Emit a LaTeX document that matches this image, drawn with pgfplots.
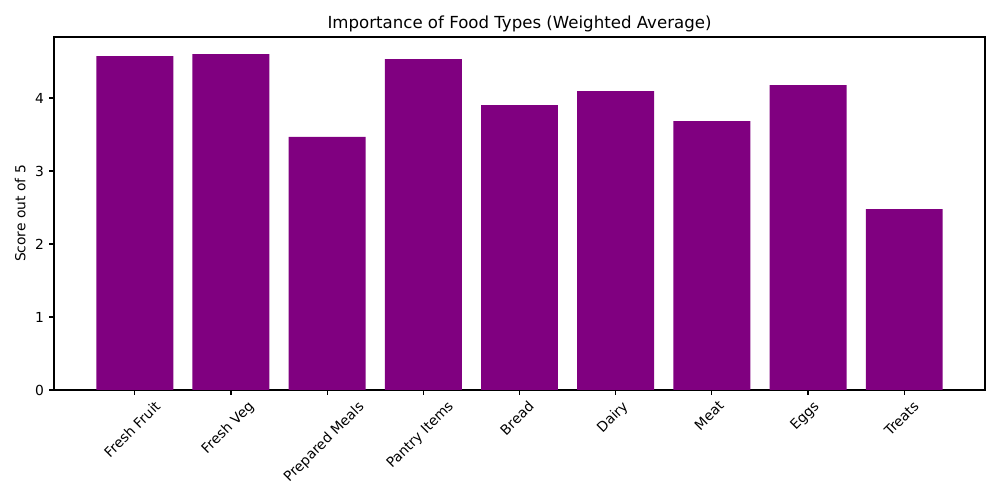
\documentclass[border=0pt]{standalone}
\usepackage{fontspec}
\setmainfont{DejaVu Sans}
\usepackage{graphicx}
\usepackage{pgfplots}
\pgfplotsset{compat=1.18}
\definecolor{barpurple}{RGB}{128,0,128}

\begin{document}
\begin{tikzpicture}
\path[use as bounding box] (-0.54in,-1.10in) rectangle (9.46in,3.90in);
\begin{axis}[
at={(0,0)}, anchor=south west,
scale only axis,
width=9.31in, height=3.53in,
xmin=-0.84, xmax=8.84,
ymin=0, ymax=4.836,
ytick={0,1,2,3,4},
xtick=data,
xticklabels={
  \rotatebox{45}{Fresh Fruit},
  \rotatebox{45}{Fresh Veg},
  \rotatebox{45}{Prepared Meals},
  \rotatebox{45}{Pantry Items},
  \rotatebox{45}{Bread},
  \rotatebox{45}{Dairy},
  \rotatebox{45}{Meat},
  \rotatebox{45}{Eggs},
  \rotatebox{45}{Treats}},
x tick label style={anchor=north, font=\fontsize{10}{12}\selectfont, inner sep=0pt, yshift=-3.5pt, xshift=-2pt},
y tick label style={font=\fontsize{10}{12}\selectfont, inner sep=0pt, xshift=-3.5pt},
/pgf/number format/assume math mode=true,
tick align=outside,
major tick length=3.5pt,
tick style={black, line width=0.8pt},
axis line style={line width=0.8pt},
xtick pos=bottom, ytick pos=left,
ylabel={Score out of 5},
ylabel shift=3.5pt,
ylabel style={font=\fontsize{10}{12}\selectfont},
title={Importance of Food Types (Weighted Average)},
title style={font=\fontsize{12}{14}\selectfont, yshift=-6pt},
]
\addplot[ybar, bar width=0.8, fill=barpurple, draw=none] coordinates {
(0,4.575)
(1,4.600)
(2,3.466)
(3,4.534)
(4,3.904)
(5,4.096)
(6,3.685)
(7,4.178)
(8,2.479)
};
\end{axis}
\end{tikzpicture}
\end{document}
